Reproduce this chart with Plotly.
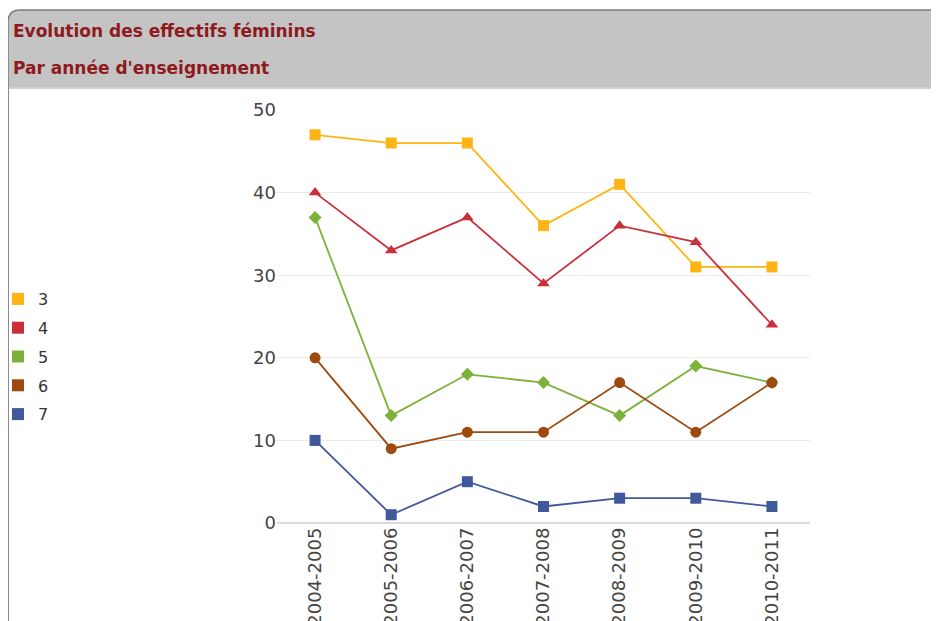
import plotly.graph_objects as go

annees = ['2004-2005', '2005-2006', '2006-2007', '2007-2008', '2008-2009', '2009-2010', '2010-2011']
niveaux = ['3', '4', '5', '6', '7']
eff_3 = [47, 46, 46, 36, 41, 31, 31]
eff_4 = [40, 33, 37, 29, 36, 34, 24]
eff_5 = [37, 13, 18, 17, 13, 19, 17]
eff_6 = [20, 9, 11, 11, 17, 11, 17]
eff_7 = [10, 1, 5, 2, 3, 3, 2]

series = [eff_3, eff_4, eff_5, eff_6, eff_7]
couleurs = ['#FDB515', '#C9303B', '#7DB23A', '#9E4A0E', '#41599A']
symboles = ['square', 'triangle-up', 'diamond', 'circle', 'square']
tailles = [11, 11, 10, 11, 11]

# the page body adds an 8px margin, so the figure is shifted by OFF
OFF = 8
W, H = 939, 621 - OFF
# plot area in page pixels
L, R, T, B = 277, 810, 110, 523


def px(x):
    return (x - L) / (R - L)


def py(y):
    return (B - y) / (B - T)


fig = go.Figure()

for nom, vals, c, s, t in zip(niveaux, series, couleurs, symboles, tailles):
    fig.add_trace(go.Scatter(x=annees, y=vals, mode='lines+markers', name=nom,
                             line=dict(color=c, width=1.8),
                             marker=dict(color=c, symbol=s, size=t),
                             showlegend=False, cliponaxis=False))
    # legend entry: plain square
    fig.add_trace(go.Scatter(x=[None], y=[None], mode='markers', name=nom,
                             legendgroup=nom,
                             marker=dict(color=c, symbol='square', size=12)))

# header band with rounded top-left corner
r = 12
x0, x1 = px(8), px(W + OFF + 5)
y0, y1 = py(88), py(10)
rx, ry = r / (R - L), r / (B - T)
chemin = (f'M {x0},{y0} L {x0},{y1 - ry} Q {x0},{y1} {x0 + rx},{y1} '
          f'L {x1},{y1} L {x1},{y0} Z')
shapes = [
    dict(type='path', xref='paper', yref='paper', path=chemin,
         fillcolor='#C4C4C4', line=dict(color='#7A7A7A', width=1.5), layer='below'),
    dict(type='line', xref='paper', yref='paper', x0=px(8), x1=px(8),
         y0=py(75), y1=py(630), line=dict(color='#8C8C8C', width=2)),
    dict(type='line', xref='paper', yref='paper', x0=px(9), x1=px(W + OFF + 5),
         y0=py(88), y1=py(88), line=dict(color='#E6E6E6', width=1.5)),
]

titre_font = dict(family='DejaVu Sans', size=17, color='#8E1A1E')
annotations = [
    dict(text='<b>Evolution des effectifs féminins</b>', xref='paper', yref='paper',
         x=px(11), y=py(31), xanchor='left', yanchor='middle', showarrow=False,
         font=titre_font),
    dict(text="<b>Par année d'enseignement</b>", xref='paper', yref='paper',
         x=px(11), y=py(68), xanchor='left', yanchor='middle', showarrow=False,
         font=titre_font),
]

fig.update_layout(
    width=W, height=H,
    margin=dict(l=L - OFF, r=W + OFF - R, t=T - OFF, b=H + OFF - B, autoexpand=False),
    paper_bgcolor='white', plot_bgcolor='white',
    font=dict(family='DejaVu Sans', color='#444444'),
    shapes=shapes, annotations=annotations,
    legend=dict(x=px(-2), y=py(282), xanchor='left', yanchor='top',
                font=dict(size=16, color='#333333'), tracegroupgap=5,
                itemwidth=30, bgcolor='rgba(0,0,0,0)'),
    xaxis=dict(type='category', range=[-0.5, 6.5], tickangle=-90,
               showgrid=False, showline=False, ticks='', automargin=False,
               tickfont=dict(size=18, color='#444444')),
    yaxis=dict(range=[0, 50], dtick=10, showgrid=True, gridcolor='#EBEBEB',
               gridwidth=1, zeroline=True, zerolinecolor='#DADADA', zerolinewidth=2,
               showline=False, ticks='', automargin=False,
               tickfont=dict(size=18, color='#444444')),
)

fig.write_html('out.html')
